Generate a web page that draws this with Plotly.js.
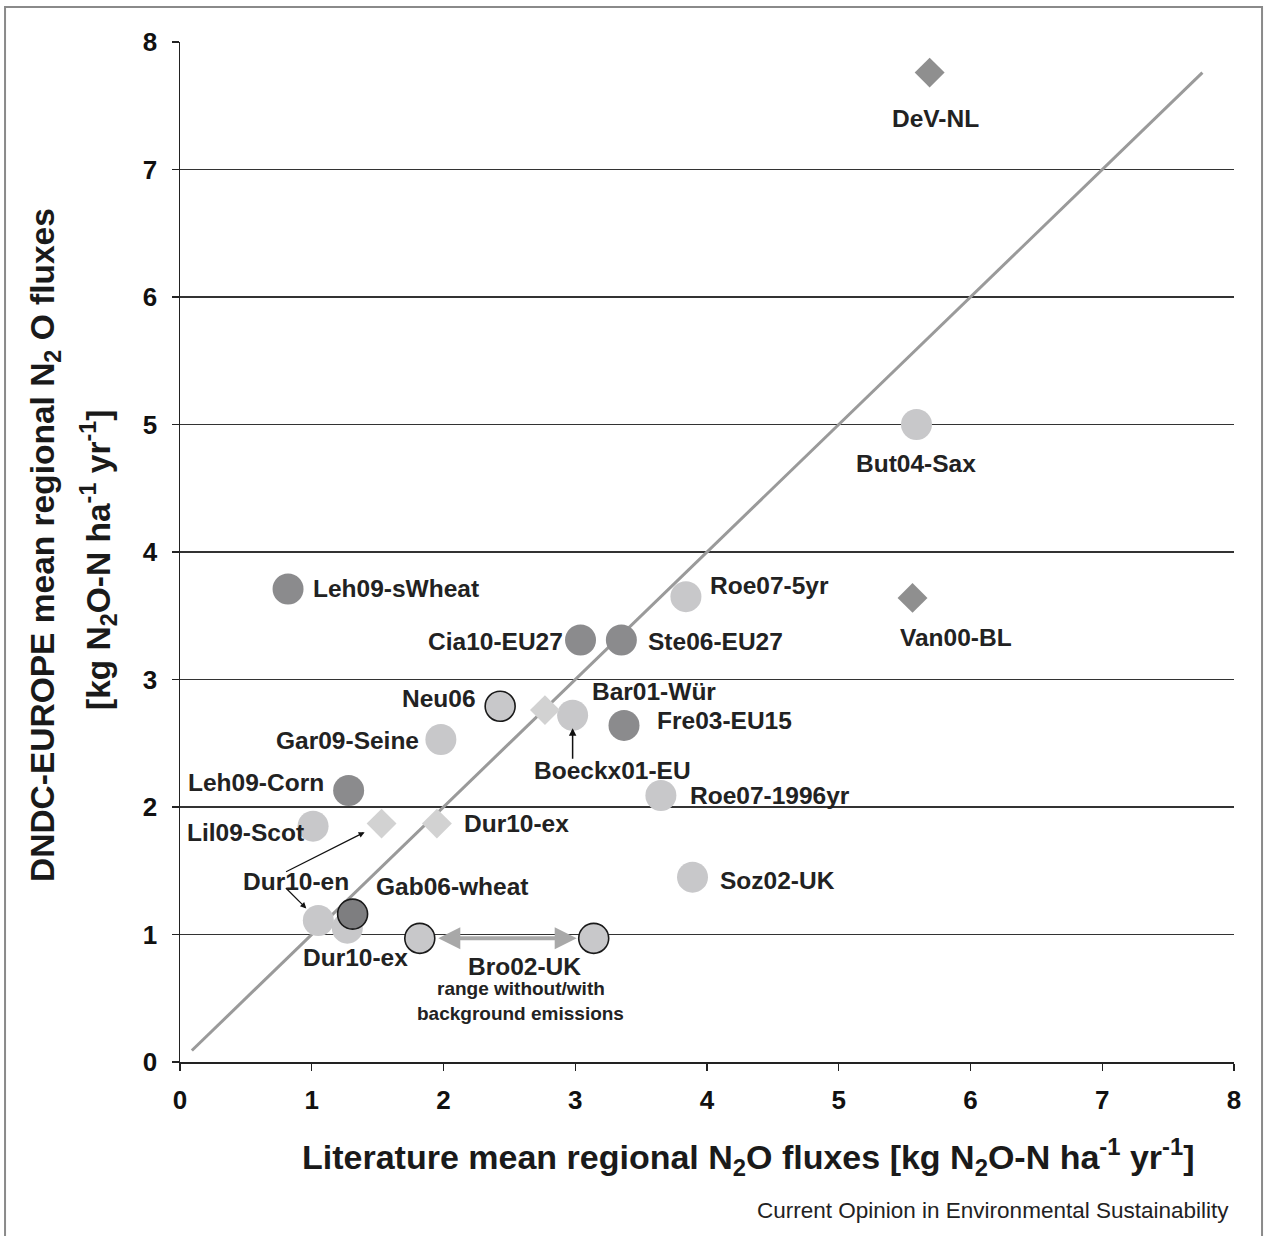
<!DOCTYPE html>
<html>
<head>
<meta charset="utf-8">
<script src="https://cdn.plot.ly/plotly-3.0.1.min.js"></script>
<style>
  html, body { margin: 0; padding: 0; background: #ffffff; }
  #chart { width: 1266px; height: 1236px; }
</style>
</head>
<body>
<div id="chart"></div>
<script>
// ---- data ----
const studies = ['DeV-NL', 'But04-Sax', 'Van00-BL', 'Leh09-sWheat', 'Roe07-5yr', 'Cia10-EU27',
  'Ste06-EU27', 'Neu06', 'Bar01-Wür (diamond)', 'Bar01-Wür / Boeckx01-EU', 'Fre03-EU15', 'Gar09-Seine',
  'Leh09-Corn', 'Roe07-1996yr', 'Lil09-Scot', 'Dur10-en (diamond)', 'Dur10-ex (diamond)', 'Soz02-UK',
  'Dur10-en', 'Dur10-ex', 'Gab06-wheat', 'Bro02-UK (without background)', 'Bro02-UK (with background)'];
const literatureFlux = [5.69, 5.59, 5.56, 0.82, 3.84, 3.04, 3.35, 2.43, 2.77, 2.98, 3.37, 1.98,
  1.28, 3.65, 1.01, 1.53, 1.95, 3.89, 1.05, 1.27, 1.31, 1.82, 3.14];
const dndcFlux = [7.76, 5.00, 3.64, 3.71, 3.65, 3.31, 3.31, 2.79, 2.76, 2.72, 2.64, 2.53,
  2.13, 2.09, 1.85, 1.87, 1.87, 1.45, 1.11, 1.05, 1.16, 0.97, 0.97];
const markerGroup = ['darkDiamond', 'light', 'darkDiamond', 'dark', 'light', 'dark',
  'dark', 'lightOutlined', 'lightDiamond', 'light', 'dark', 'light',
  'dark', 'light', 'light', 'lightDiamond', 'lightDiamond', 'light',
  'light', 'light', 'darkOutlined', 'lightOutlined', 'lightOutlined'];
const oneToOne = [0.09, 7.76];
const tickValues = [0, 1, 2, 3, 4, 5, 6, 7, 8];

// ---- styles (not data) ----
const groupStyle = {
  light:         {symbol: 'circle',  color: '#c8c8ca', size: 31, line: {color: '#c8c8ca', width: 0}},
  dark:          {symbol: 'circle',  color: '#8b8b8d', size: 31, line: {color: '#8b8b8d', width: 0}},
  lightOutlined: {symbol: 'circle',  color: '#c8c8ca', size: 30, line: {color: '#1a1a1a', width: 1.6}},
  darkOutlined:  {symbol: 'circle',  color: '#7e7e80', size: 30, line: {color: '#1a1a1a', width: 1.6}},
  lightDiamond:  {symbol: 'diamond', color: '#d2d2d2', size: 23, line: {color: '#d2d2d2', width: 0}},
  darkDiamond:   {symbol: 'diamond', color: '#8f8f8f', size: 23, line: {color: '#8f8f8f', width: 0}}
};

// label text, index of point, anchor, x shift, y shift (px)
const labelText   = ['DeV-NL', 'But04-Sax', 'Van00-BL', 'Leh09-sWheat', 'Roe07-5yr', 'Cia10-EU27',
  'Ste06-EU27', 'Neu06', 'Bar01-Wür', 'Fre03-EU15', 'Gar09-Seine', 'Boeckx01-EU', 'Leh09-Corn',
  'Roe07-1996yr', 'Lil09-Scot', 'Dur10-ex', 'Soz02-UK', 'Dur10-en', 'Dur10-ex', 'Gab06-wheat', 'Bro02-UK'];
const labelPoint  = [0, 1, 2, 3, 4, 5, 6, 7, 9, 10, 11, 9, 12, 13, 14, 16, 17, 18, 19, 20, 22];
const labelAnchor = ['center', 'center', 'center', 'left', 'left', 'right', 'left', 'right', 'left', 'left',
  'right', 'center', 'right', 'left', 'right', 'left', 'left', 'center', 'center', 'left', 'center'];
const labelDx = [6, 0, 43, 23, 22, -16, 25, -22, 17, 31, -20, 40, -23, 27, -7, 25, 25, -22, 8, 21, -69];
const labelDy = [-46, -39, -40, 0, 11, -2, -2, 8, 24, 5, -1, -55, 8, 0, -6, 0, -3, 39, -29, 28, -28];

const traces = [];
traces.push({
  x: oneToOne, y: oneToOne, mode: 'lines', type: 'scatter',
  line: {color: '#9a9a9a', width: 3}, hoverinfo: 'skip', showlegend: false
});
['light', 'dark', 'lightDiamond', 'darkDiamond', 'lightOutlined', 'darkOutlined'].forEach(g => {
  const idx = markerGroup.map((m, i) => m === g ? i : -1).filter(i => i >= 0);
  const s = groupStyle[g];
  traces.push({
    x: idx.map(i => literatureFlux[i]), y: idx.map(i => dndcFlux[i]),
    text: idx.map(i => studies[i]),
    mode: 'markers', type: 'scatter', showlegend: false, hoverinfo: 'text',
    marker: {symbol: s.symbol, color: s.color, size: s.size, line: s.line}
  });
});

const labelFont = {family: 'Liberation Sans, Arial, sans-serif', size: 24.5, color: '#222222', weight: 'bold'};
const annotations = labelText.map((t, k) => ({
  x: literatureFlux[labelPoint[k]], y: dndcFlux[labelPoint[k]], xref: 'x', yref: 'y',
  text: t, showarrow: false, xanchor: labelAnchor[k], yanchor: 'middle',
  xshift: labelDx[k], yshift: labelDy[k], font: labelFont
}));
// Bro02-UK explanation
const smallFont = {family: 'Liberation Sans, Arial, sans-serif', size: 19, color: '#222222', weight: 'bold'};
annotations.push({x: literatureFlux[22], y: dndcFlux[22], xref: 'x', yref: 'y', showarrow: false,
  text: 'range without/with', xanchor: 'center', yanchor: 'middle', xshift: -73, yshift: -50, font: smallFont});
annotations.push({x: literatureFlux[22], y: dndcFlux[22], xref: 'x', yref: 'y', showarrow: false,
  text: 'background emissions', xanchor: 'center', yanchor: 'middle', xshift: -73, yshift: -75, font: smallFont});
// arrows
annotations.push({x: literatureFlux[9], y: dndcFlux[9], xref: 'x', yref: 'y', text: '',
  showarrow: true, ax: 0, ay: 45, standoff: 13, arrowhead: 2, arrowsize: 1, arrowwidth: 1.5, arrowcolor: '#111'});
annotations.push({x: literatureFlux[15], y: dndcFlux[15], xref: 'x', yref: 'y', text: '',
  showarrow: true, ax: -97, ay: 49, standoff: 19, arrowhead: 2, arrowsize: 1, arrowwidth: 1.2, arrowcolor: '#111'});
annotations.push({x: literatureFlux[18], y: dndcFlux[18], xref: 'x', yref: 'y', text: '',
  showarrow: true, ax: -34, ay: -34, standoff: 17, arrowhead: 2, arrowsize: 1, arrowwidth: 1.2, arrowcolor: '#111'});
annotations.push({x: literatureFlux[22], y: dndcFlux[22], xref: 'x', yref: 'y', text: '',
  showarrow: true, axref: 'x', ayref: 'y', ax: literatureFlux[21], ay: dndcFlux[21],
  arrowside: 'end+start', standoff: 17, startstandoff: 17, arrowhead: 2, startarrowhead: 2,
  arrowsize: 1.1, startarrowsize: 1.1, arrowwidth: 4, arrowcolor: '#a8a8a8'});
// axis titles
annotations.push({xref: 'paper', yref: 'paper', x: 0.5, y: 0, xanchor: 'center', yanchor: 'middle',
  xshift: 41, yshift: -95, showarrow: false,
  text: 'Literature mean regional N<sub>2</sub>O fluxes [kg N<sub>2</sub>O-N ha<sup>-1</sup> yr<sup>-1</sup>]',
  font: {family: 'Liberation Sans Narrow, Liberation Sans, Arial, sans-serif', size: 34, color: '#1a1a1a', weight: 'bold'}});
annotations.push({xref: 'paper', yref: 'paper', x: 0, y: 0.5, xanchor: 'center', yanchor: 'middle',
  xshift: -135, yshift: 7, textangle: -90, showarrow: false,
  text: 'DNDC-EUROPE mean regional N<sub>2</sub> O fluxes',
  font: {family: 'Liberation Sans, Arial, sans-serif', size: 33.5, color: '#1a1a1a', weight: 'bold'}});
annotations.push({xref: 'paper', yref: 'paper', x: 0, y: 0.5, xanchor: 'center', yanchor: 'middle',
  xshift: -82, yshift: -8, textangle: -90, showarrow: false,
  text: '[kg N<sub>2</sub>O-N ha<sup>-1</sup> yr<sup>-1</sup>]',
  font: {family: 'Liberation Sans, Arial, sans-serif', size: 33.5, color: '#1a1a1a', weight: 'bold'}});
// source footer
annotations.push({xref: 'paper', yref: 'paper', x: 1, y: 0, xanchor: 'right', yanchor: 'middle',
  xshift: -3, yshift: -148, showarrow: false,
  text: 'Current Opinion in Environmental Sustainability',
  font: {family: 'Liberation Sans Narrow, Liberation Sans, Arial, sans-serif', size: 22.5, color: '#222222'}});

const tickFont = {family: 'Liberation Sans Narrow, Liberation Sans, Arial, sans-serif', size: 26, color: '#111111', weight: 'bold'};

const layout = {
  width: 1266, height: 1236,
  margin: {l: 180, r: 32, t: 42, b: 174},
  paper_bgcolor: '#ffffff', plot_bgcolor: '#ffffff',
  showlegend: false,
  xaxis: {
    range: [0, 8], tickvals: tickValues, ticktext: tickValues.map(String),
    showgrid: false, zeroline: false, showline: true, linecolor: '#222', linewidth: 1.5,
    ticks: 'outside', ticklen: 7, tickwidth: 1.3, tickcolor: '#222',
    tickfont: tickFont, ticklabelstandoff: 7, fixedrange: true
  },
  yaxis: {
    range: [0, 8], tickvals: tickValues, ticktext: tickValues.map(String),
    showgrid: true, gridcolor: '#333333', gridwidth: 1.4, zeroline: false,
    showline: true, linecolor: '#222', linewidth: 1.5,
    ticks: 'outside', ticklen: 7, tickwidth: 1.3, tickcolor: '#222',
    tickfont: tickFont, ticklabelstandoff: 9, fixedrange: true
  },
  shapes: [{type: 'rect', xref: 'paper', yref: 'paper', x0: -0.1660, x1: 1.0266, y0: -0.18, y1: 1.0343,
    line: {color: '#8a8a8a', width: 2}, layer: 'below'}],
  annotations: annotations
};

Plotly.newPlot('chart', traces, layout, {displayModeBar: false, staticPlot: true});
</script>
</body>
</html>
